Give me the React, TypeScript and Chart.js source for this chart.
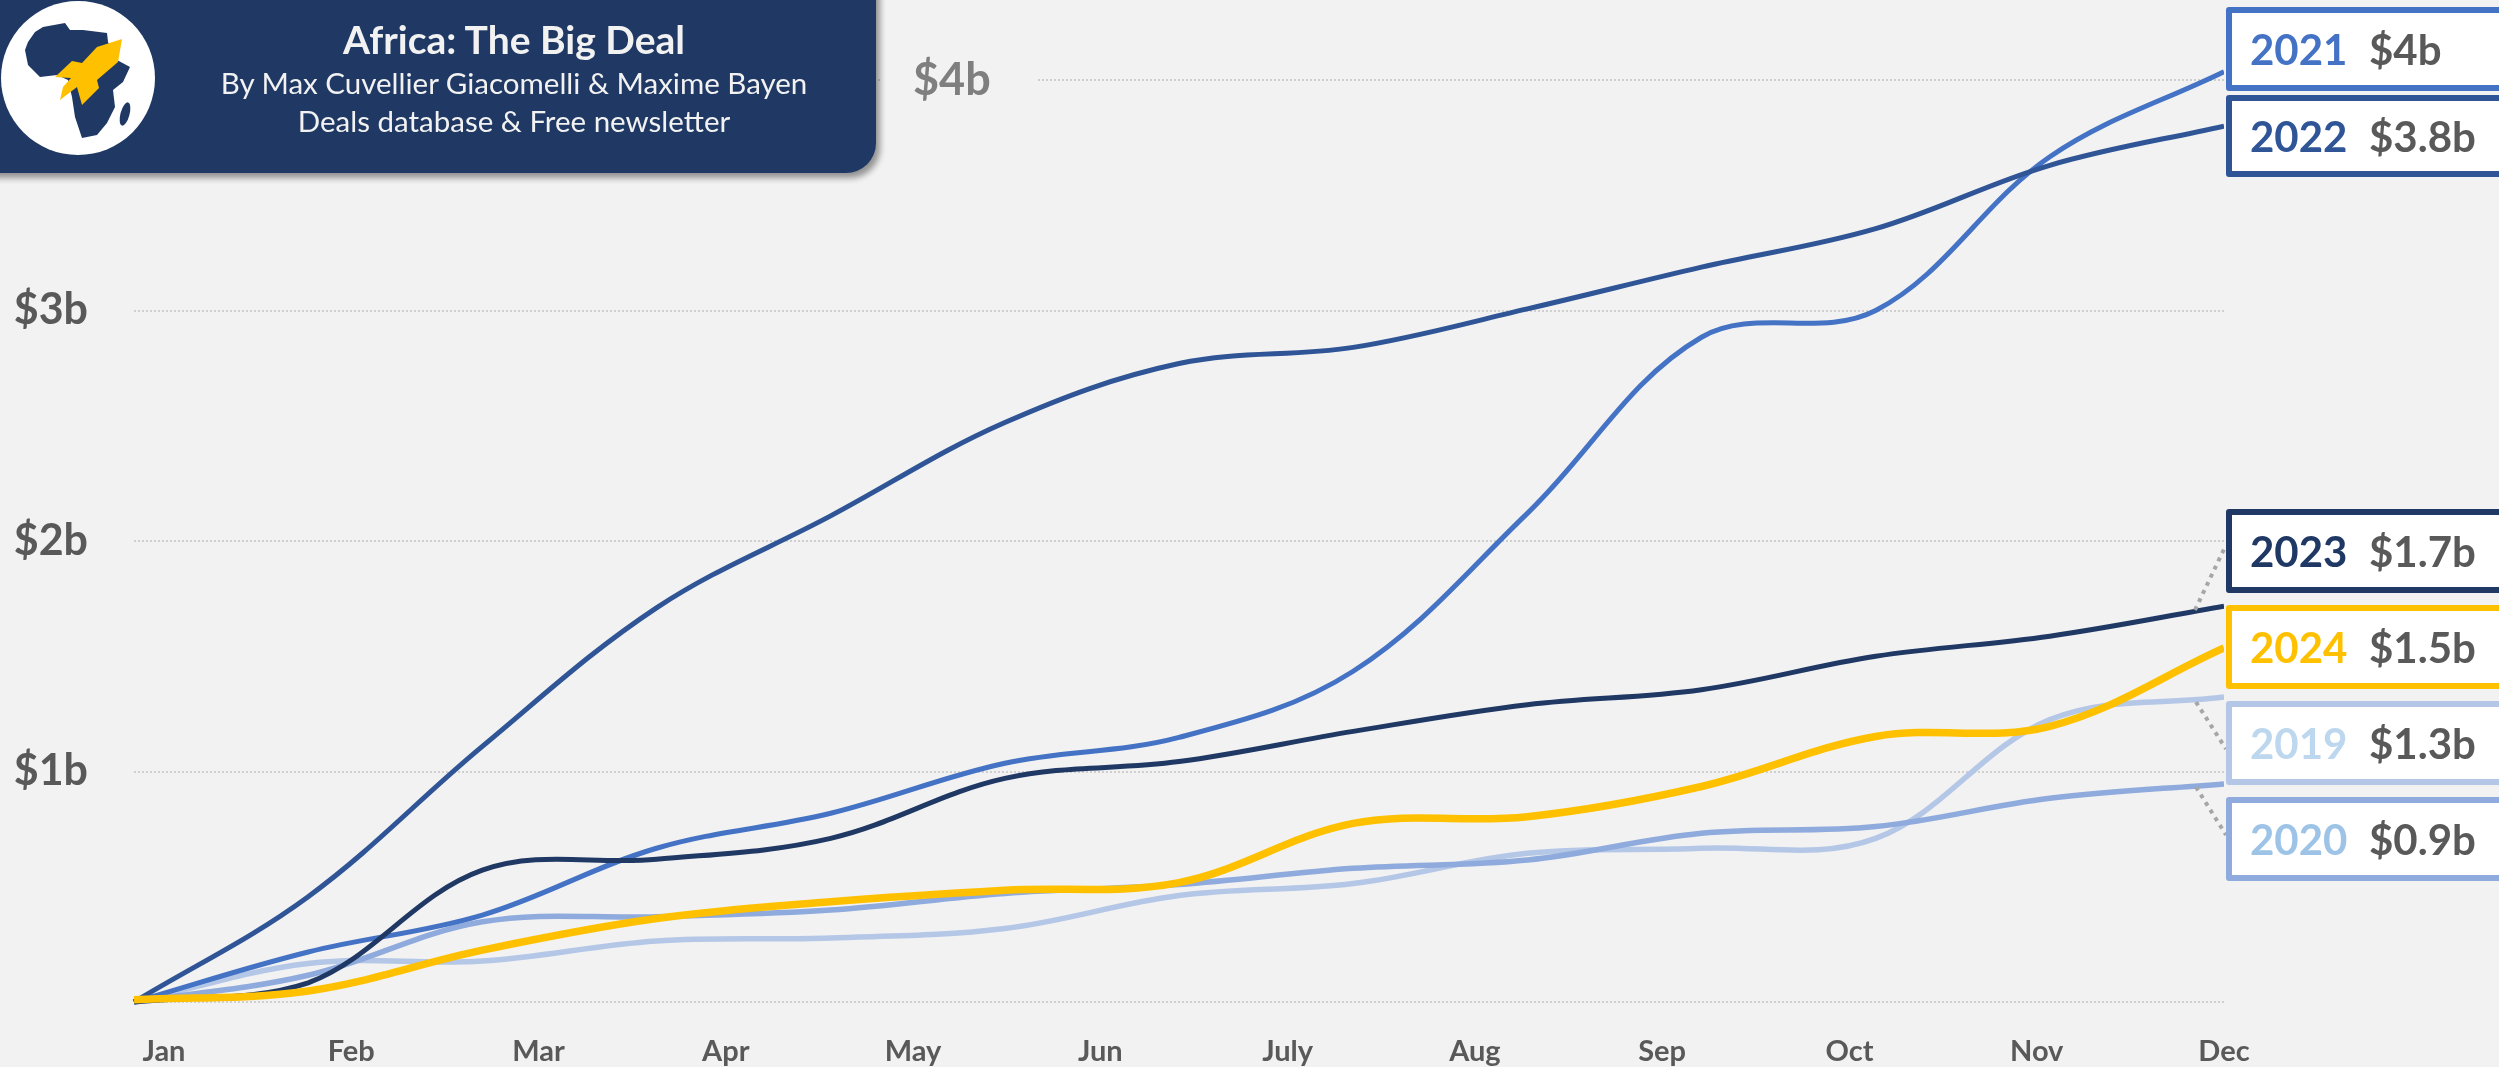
import React, { useEffect, useRef } from "react";
import { Chart, registerables } from "chart.js";

Chart.register(...registerables);

const MONTHS = ["Jan", "Feb", "Mar", "Apr", "May", "Jun", "July", "Aug", "Sep", "Oct", "Nov", "Dec"];
const KNOTS = ["0", "1", "2", "3", "4", "5", "6", "7", "8", "9", "10", "11", "12"];
const Y_TICK_VALUES = ["$1b", "$2b", "$3b"];

const V2019 = [0, 0.167, 0.178, 0.265, 0.278, 0.319, 0.462, 0.514, 0.645, 0.667, 0.71, 1.225, 1.323];
const V2020 = [0, 0.116, 0.348, 0.37, 0.399, 0.471, 0.51, 0.58, 0.616, 0.732, 0.761, 0.884, 0.946];
const V2021 = [0, 0.217, 0.377, 0.667, 0.819, 1.036, 1.148, 1.435, 2.12, 2.884, 3.0, 3.667, 4.036];
const V2022 = [0, 0.457, 1.109, 1.71, 2.109, 2.514, 2.77, 2.84, 3.007, 3.188, 3.355, 3.63, 3.8];
const V2023 = [0, 0.083, 0.572, 0.619, 0.71, 0.97, 1.043, 1.174, 1.29, 1.355, 1.5, 1.587, 1.717];
const V2024 = [0.01, 0.048, 0.225, 0.362, 0.435, 0.485, 0.518, 0.775, 0.804, 0.935, 1.152, 1.196, 1.536];

const BADGES = [
  { year: "2021", value: "$4b", border: "#4472C4", text: "#4472C4", top: 7, height: 84 },
  { year: "2022", value: "$3.8b", border: "#2F5597", text: "#2F5597", top: 95, height: 82 },
  { year: "2023", value: "$1.7b", border: "#1F3864", text: "#1F3864", top: 509, height: 84 },
  { year: "2024", value: "$1.5b", border: "#FFC000", text: "#FFC000", top: 605, height: 84 },
  { year: "2019", value: "$1.3b", border: "#B4C7E7", text: "#BDD7EE", top: 701, height: 84 },
  { year: "2020", value: "$0.9b", border: "#8FAADC", text: "#9DC3E6", top: 797, height: 84 },
];

const FONT = "Lato, Carlito, 'Open Sans', sans-serif";
const BG = "#F2F2F2";

export default function App() {
  const ref = useRef<HTMLCanvasElement>(null);
  useEffect(() => {
    document.body.style.margin = "0";
    document.body.style.background = BG;
    document.body.style.overflow = "hidden";
    const line = (label: string, data: number[], color: string, width: number, order: number) => ({
      label,
      data,
      borderColor: color,
      borderWidth: width,
      pointRadius: 0,
      tension: 0.36,
      fill: false,
      order,
      clip: { left: 5, top: 40, right: 0, bottom: 10 },
      xAxisID: "x",
      yAxisID: "y",
    });
    const chart = new Chart(ref.current!, {
      type: "line",
      data: {
        labels: KNOTS,
        datasets: [
          line("2024", V2024, "#FFC000", 7.5, 1),
          line("2023", V2023, "#1F3864", 5, 2),
          line("2022", V2022, "#2F5597", 5, 3),
          line("2021", V2021, "#4472C4", 5, 4),
          line("2020", V2020, "#8FAADC", 5.5, 5),
          line("2019", V2019, "#B4C7E7", 5.5, 6),
        ],
      },
      options: {
        responsive: false,
        animation: false,
        layout: { padding: { left: 0, top: 80, right: 275, bottom: 0 } },
        plugins: { legend: { display: false }, title: { display: false }, tooltip: { enabled: false } },
        scales: {
          x: { type: "category", display: false, offset: false },
          months: {
            type: "linear",
            position: "bottom",
            min: -0.16,
            max: 11,
            grid: { display: false },
            border: { display: false },
            afterFit: (s: any) => {
              s.height = 65;
            },
            ticks: {
              stepSize: 1,
              includeBounds: false,
              autoSkip: false,
              maxRotation: 0,
              padding: 24,
              color: "#595959",
              font: { family: FONT, weight: "bold", size: 29 },
              callback: (v: any) => MONTHS[v] ?? "",
            },
          },
          y: {
            type: "linear",
            min: 0,
            max: 4,
            afterFit: (s: any) => {
              s.width = 134;
              s.paddingTop = 0;
              s.paddingBottom = 0;
            },
            border: { display: false, dash: [2, 2] },
            grid: { color: "#CFCFCF", lineWidth: 2, drawTicks: false },
            ticks: {
              stepSize: 1,
              padding: 46,
              color: "#595959",
              font: { family: FONT, weight: "bold", size: 43 },
              callback: (v: any) => Y_TICK_VALUES[v - 1] ?? "",
            },
          },
        },
      } as any,
    });
    return () => chart.destroy();
  }, []);

  return (
    <div style={{ position: "fixed", left: 0, top: 0, width: 2499, height: 1067, overflow: "hidden", background: BG, fontFamily: FONT }}>
      <canvas ref={ref} width={2499} height={1067} style={{ position: "absolute", left: 0, top: 0 }} />
      <div style={{ position: "absolute", left: 880, top: 74, width: 158, height: 12, background: BG }} />
      <div style={{ position: "absolute", left: 913, top: 50, fontWeight: 700, fontSize: 45, lineHeight: "56px", color: "#7F7F7F" }}>$4b</div>

      <svg width={2499} height={1067} style={{ position: "absolute", left: 0, top: 0 }}>
        <g stroke="#A6A6A6" strokeWidth={4} strokeDasharray="4 5" fill="none">
          <line x1={2195} y1={610} x2={2226} y2={545} />
          <line x1={2196} y1={702} x2={2226} y2={749} />
          <line x1={2196} y1={787} x2={2226} y2={835} />
        </g>
      </svg>

      <div
        style={{
          position: "absolute",
          left: -20,
          top: -20,
          width: 896,
          height: 193,
          background: "#1F3864",
          borderBottomRightRadius: 30,
          boxShadow: "4px 5px 6px rgba(0,0,0,0.4)",
        }}
      />
      <div style={{ position: "absolute", left: 143, width: 742, top: 15, textAlign: "center", color: BG, fontWeight: 700, fontSize: 39, lineHeight: "48px" }}>
        Africa: The Big Deal
      </div>
      <div style={{ position: "absolute", left: 143, width: 742, top: 64, textAlign: "center", color: BG, fontSize: 29.5, lineHeight: "38px" }}>
        By Max Cuvellier Giacomelli &amp; Maxime Bayen
      </div>
      <div style={{ position: "absolute", left: 143, width: 742, top: 102, textAlign: "center", color: BG, fontSize: 29.5, lineHeight: "38px" }}>
        Deals database &amp; Free newsletter
      </div>
      <svg width={160} height={160} style={{ position: "absolute", left: 0, top: 0 }}>
        <circle cx={78} cy={78} r={77} fill="#FFFFFF" />
        <path
          d="M35 32 L43 27 L65 23 L70 30 L83 30 L107 33 L108 42 L117 60 L130 67 L123 82 L113 90 L115 107 L107 123 L97 135 L82 138 L75 117 L72 97 L68 80 L57 75 L40 77 L28 65 L25 50 L28 42 Z"
          fill="#1F3864"
        />
        <ellipse cx={125} cy={114} rx={4.5} ry={12} fill="#1F3864" transform="rotate(15 125 114)" />
        <path d="M122 39 L118 62 L97 80 L99 88 L82 105 L77 87 L60 100 L63 87 L71 78 L55 77 L72 61 L82 63 L97 47 Z" fill="#FFC000" />
      </svg>

      {BADGES.map((b) => (
        <div
          key={b.year}
          style={{
            position: "absolute",
            left: 2226,
            top: b.top,
            width: 300,
            height: b.height,
            boxSizing: "border-box",
            border: `6px solid ${b.border}`,
            borderRadius: 3,
            background: "#FFFFFF",
            fontWeight: 700,
            fontSize: 42,
            whiteSpace: "nowrap",
            lineHeight: `${b.height - 12}px`,
          }}
        >
          <span style={{ position: "absolute", left: 18, color: b.text }}>{b.year}</span>
          <span style={{ position: "absolute", left: 137, color: "#595959" }}>{b.value}</span>
        </div>
      ))}
    </div>
  );
}
